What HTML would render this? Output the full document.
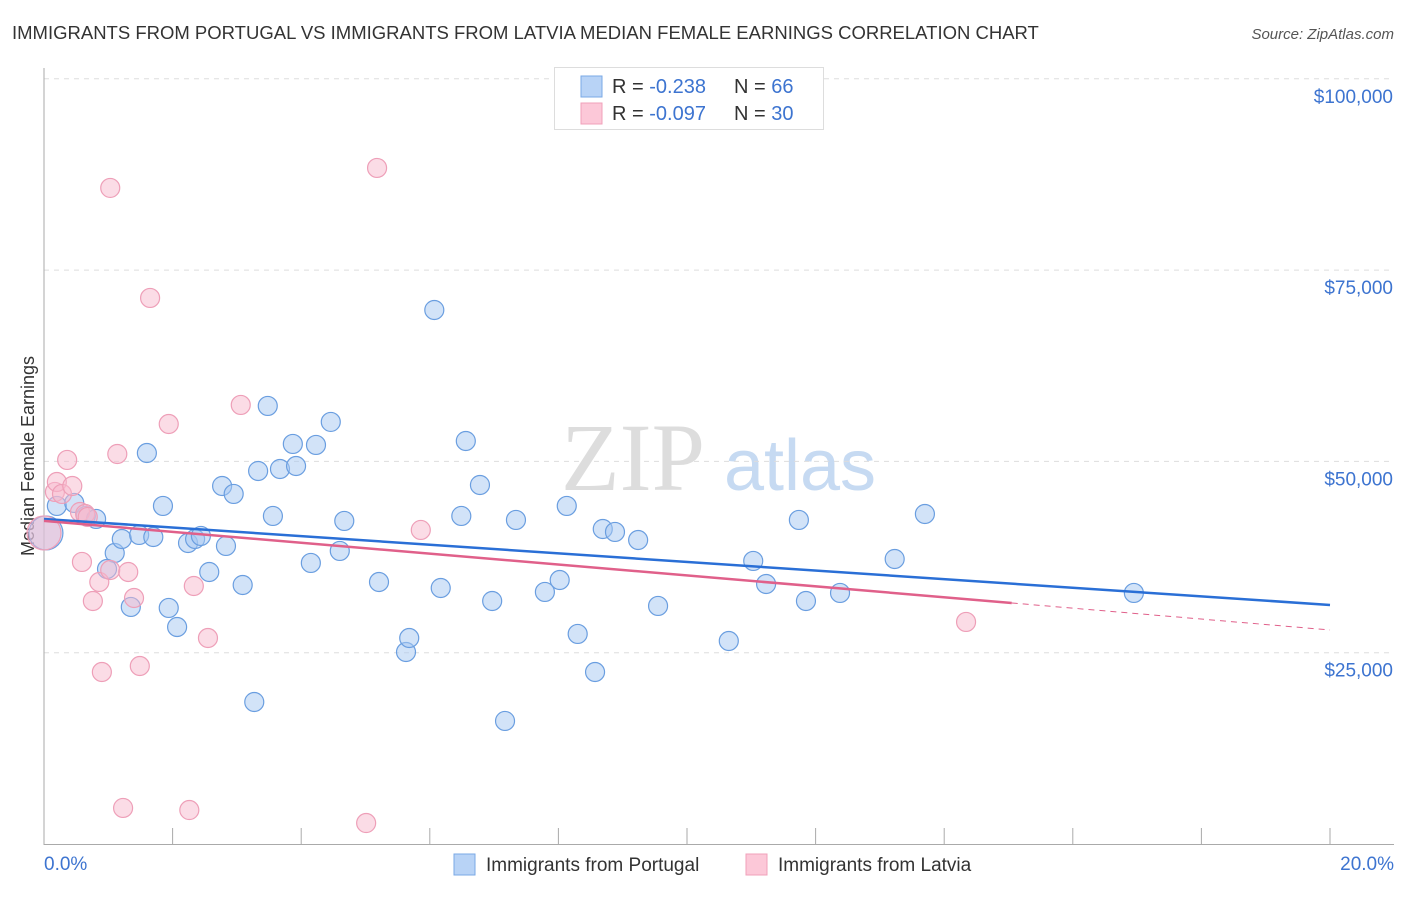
<!DOCTYPE html>
<html><head><meta charset="utf-8"><style>
body{margin:0;background:#fff;font-family:"Liberation Sans",sans-serif}
svg text{font-family:"Liberation Sans",sans-serif}
</style></head><body>
<svg id="c" width="1406" height="892"></svg>
<script>
const blueX=[0.03,0.20,0.47,0.65,0.81,1.10,0.98,1.21,1.35,1.48,1.60,1.70,1.85,1.94,2.07,2.24,2.35,2.44,2.57,2.77,2.83,2.95,3.09,3.27,3.33,3.48,3.56,3.67,3.87,3.92,4.15,4.23,4.46,4.60,4.67,5.21,5.63,5.68,6.07,6.17,6.49,6.56,6.78,6.97,7.17,7.34,7.79,8.02,8.13,8.30,8.57,8.69,8.88,9.24,9.55,10.65,11.03,11.23,11.74,11.85,12.38,13.23,13.70,16.95];
const blueY=[40650,44180,44570,42870,42480,38030,35940,39860,30980,40390,51100,40120,44180,30850,28360,39340,39860,40260,35550,46790,38950,45750,33850,18560,48750,57250,42870,49010,52280,49400,36730,52150,55160,38300,42220,34240,25090,26920,69790,33460,42870,52670,46920,31760,16080,42350,32940,34500,44180,27450,22480,41170,40780,39730,31110,26530,36990,33980,42350,31760,32810,37250,43130,32810];
const pinkX=[0,0.17,0.20,0.28,0.36,0.44,0.56,0.64,0.68,0.59,0.76,0.86,0.90,1.03,1.03,1.14,1.23,1.31,1.40,1.49,1.65,1.94,2.26,2.33,2.55,3.06,5.01,5.18,5.86,14.34];
const pinkY=[40650,46010,47310,45750,50190,46790,43390,43130,42740,36860,31760,34240,22480,85740,35810,50970,4710,35550,32150,23260,71360,54890,4440,33720,26920,57380,2740,88350,41040,29020];
const blueTrend=[42480,31240];
const pinkTrend=[42220,27970];
const pinkSolidEnd=15.05;
const yTicks=[25000,50000,75000,100000];
const yTickLabels=["$25,000","$50,000","$75,000","$100,000"];
const xTicks=[0,2,4,6,8,10,12,14,16,18,20];

const NS="http://www.w3.org/2000/svg",svg=document.getElementById('c');
const X=v=>44+v*64.3, Y=v=>844-v/25000*191.3;
function el(t,a,p){const e=document.createElementNS(NS,t);for(const k in a)e.setAttribute(k,a[k]);(p||svg).appendChild(e);return e;}
let t=el('text',{x:12,y:39,'font-size':18.5,fill:'#333'});t.textContent="IMMIGRANTS FROM PORTUGAL VS IMMIGRANTS FROM LATVIA MEDIAN FEMALE EARNINGS CORRELATION CHART";

t=el('text',{x:1394,y:39,'font-size':15,fill:'#555','font-style':'italic','text-anchor':'end'});t.textContent="Source: ZipAtlas.com";

// watermark
t=el('text',{x:633,y:490,'font-size':96,fill:'#ddd','font-family':'Liberation Serif','text-anchor':'middle'});t.textContent="ZIP";t.setAttribute('style','font-family:"Liberation Serif",serif');

t=el('text',{x:800,y:490,'font-size':72,fill:'#c6daf2','text-anchor':'middle'});t.textContent="atlas";

// grid
yTicks.forEach((v,i)=>{let g=el('line',{x1:44,x2:1394,y1:Y(v),y2:Y(v),stroke:'#ddd','stroke-dasharray':'5,5'});

let l=el('text',{x:1393,y:Y(v)+24,'font-size':19,fill:'#3d74d0','text-anchor':'end'});l.textContent=yTickLabels[i];
});
let a=el('line',{x1:44,x2:44,y1:68,y2:845,stroke:'#aaa'});
a=el('line',{x1:44,x2:1394,y1:844.5,y2:844.5,stroke:'#aaa'});
xTicks.forEach(v=>{let k=el('line',{x1:X(v),x2:X(v),y1:828,y2:845,stroke:'#aaa'});});
t=el('text',{x:44,y:870,'font-size':19,fill:'#3d74d0'});t.textContent="0.0%";
t=el('text',{x:1394,y:870,'font-size':19,fill:'#3d74d0','text-anchor':'end'});t.textContent="20.0%";
t=el('text',{x:34,y:456,'font-size':18,fill:'#333','text-anchor':'middle',transform:'rotate(-90 34 456)'});t.textContent="Median Female Earnings";

// points
function pts(xs,ys,fill,stroke,name){xs.forEach((x,i)=>{const r=(x===0||x<0.05)&&i===0?17:9.5;
let c=el('circle',{cx:X(x),cy:Y(ys[i]),r:r,fill:fill,stroke:stroke,'stroke-width':1.2});
});}
pts(blueX,blueY,'rgba(165,200,242,0.5)','#6a9ee0','portugal-point');
pts(pinkX,pinkY,'rgba(247,185,205,0.5)','#ee9fb8','latvia-point');
// trends
let ln=el('line',{x1:X(0),y1:Y(blueTrend[0]),x2:X(20),y2:Y(blueTrend[1]),stroke:'#2a6fd6','stroke-width':2.5});

const pAt=v=>pinkTrend[0]+(pinkTrend[1]-pinkTrend[0])*v/20;
ln=el('line',{x1:X(0),y1:Y(pinkTrend[0]),x2:X(pinkSolidEnd),y2:Y(pAt(pinkSolidEnd)),stroke:'#e0608a','stroke-width':2.5});

ln=el('line',{x1:X(pinkSolidEnd),y1:Y(pAt(pinkSolidEnd)),x2:X(20),y2:Y(pinkTrend[1]),stroke:'#e0608a','stroke-width':1,'stroke-dasharray':'6,5'});

// legend
let lg=el('rect',{x:554.5,y:67.5,width:269,height:62,fill:'#fff',stroke:'#ddd'});
[[0,'#b8d3f6','#7aa8e6','-0.238','66'],[1,'#fcc8d8','#f0a0ba','-0.097','30']].forEach(([i,f,s,r,n])=>{const yy=86+i*27;
let b=el('rect',{x:581,y:yy-10,width:21,height:21,fill:f,stroke:s});
let tx=el('text',{x:612,y:yy+7,'font-size':20,fill:'#333'});tx.innerHTML='R = <tspan fill="#3d74d0">'+r+'</tspan>';
tx=el('text',{x:734,y:yy+7,'font-size':20,fill:'#333'});tx.innerHTML='N = <tspan fill="#3d74d0">'+n+'</tspan>';});
// bottom legend
[[454,'#b8d3f6','#7aa8e6','Immigrants from Portugal'],[746,'#fcc8d8','#f0a0ba','Immigrants from Latvia']].forEach(([x,f,s,lab])=>{
let b=el('rect',{x:x,y:854,width:21,height:21,fill:f,stroke:s});
let tx=el('text',{x:x+32,y:871,'font-size':19,fill:'#333'});tx.textContent=lab;});
</script></body></html>
